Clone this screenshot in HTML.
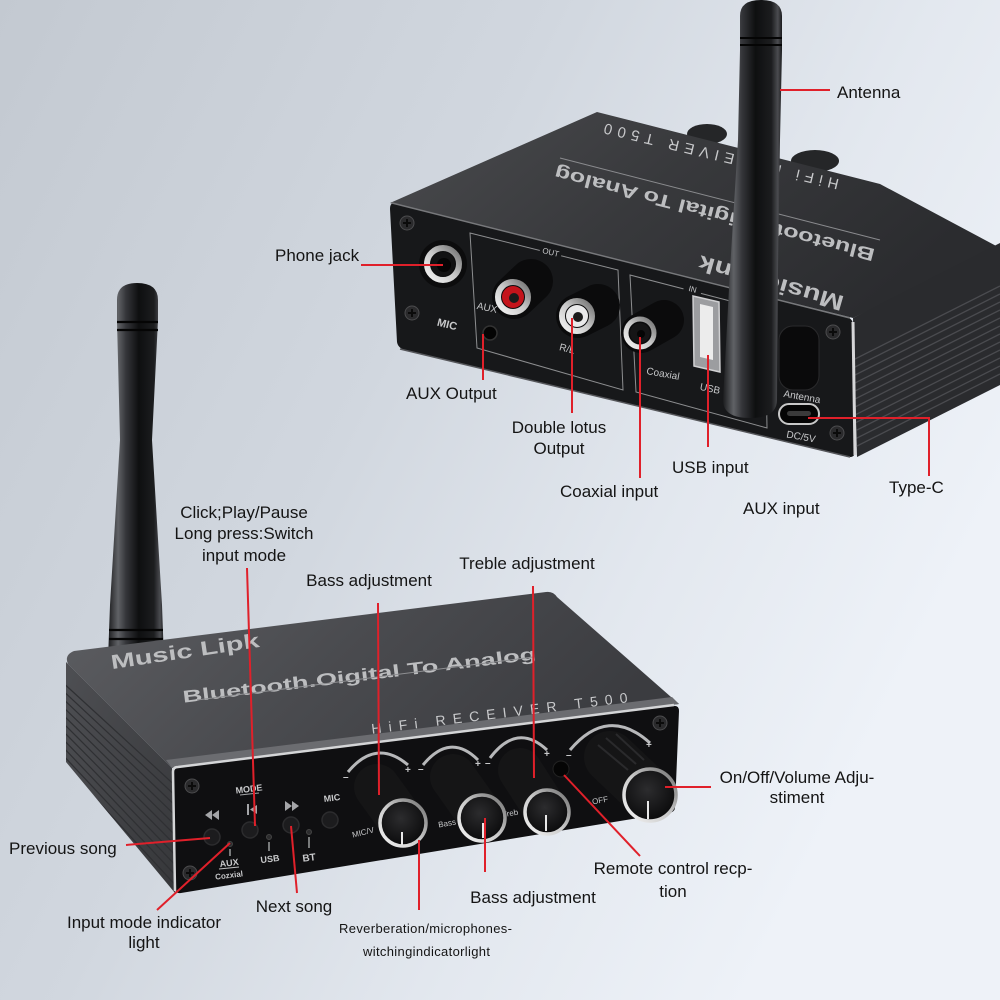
<!DOCTYPE html>
<html><head><meta charset="utf-8"><style>
html,body{margin:0;padding:0;width:1000px;height:1000px;overflow:hidden;background:#d5dbe3}
svg{display:block}
.l{font-family:"Liberation Sans",Arial,sans-serif;font-size:17px;fill:#141414}
.s{font-family:"Liberation Sans",Arial,sans-serif;font-size:13px;fill:#141414}
.r{stroke:#e0202a;stroke-width:2;fill:none}
.d{font-family:"Liberation Sans",Arial,sans-serif;fill:#c8c9cb}
.p{font-family:"Liberation Sans",Arial,sans-serif;fill:#bdbec0;font-weight:bold}
</style></head><body>
<svg width="1000" height="1000" viewBox="0 0 1000 1000" xmlns="http://www.w3.org/2000/svg">
<defs>
<linearGradient id="bg" x1="0" y1="0" x2="1" y2="0.5">
 <stop offset="0" stop-color="#c3c9d1"/>
 <stop offset="0.45" stop-color="#d1d7df"/>
 <stop offset="0.75" stop-color="#e3e8ef"/>
 <stop offset="1" stop-color="#eef2f8"/>
</linearGradient>
<linearGradient id="ant" x1="0" y1="0" x2="1" y2="0">
 <stop offset="0" stop-color="#1b1c1e"/>
 <stop offset="0.18" stop-color="#606266"/>
 <stop offset="0.32" stop-color="#35363a"/>
 <stop offset="0.55" stop-color="#0e0f10"/>
 <stop offset="0.82" stop-color="#1c1d1f"/>
 <stop offset="0.93" stop-color="#4b4c50"/>
 <stop offset="1" stop-color="#1a1b1d"/>
</linearGradient>
<linearGradient id="tf" x1="0" y1="0" x2="1" y2="0.3">
 <stop offset="0" stop-color="#5d5e62"/>
 <stop offset="0.5" stop-color="#4a4b4f"/>
 <stop offset="1" stop-color="#3b3c40"/>
</linearGradient>
<linearGradient id="tf2" x1="0" y1="0" x2="1" y2="0.4">
 <stop offset="0" stop-color="#4a4b4e"/>
 <stop offset="0.5" stop-color="#38393c"/>
 <stop offset="1" stop-color="#2b2c2f"/>
</linearGradient>
<linearGradient id="lf" x1="0" y1="0" x2="1" y2="1">
 <stop offset="0" stop-color="#4e4f53"/>
 <stop offset="1" stop-color="#36373a"/>
</linearGradient>
<linearGradient id="sil" x1="0" y1="1" x2="1" y2="0">
 <stop offset="0" stop-color="#f4f4f4"/>
 <stop offset="0.5" stop-color="#c9c9c9"/>
 <stop offset="1" stop-color="#707070"/>
</linearGradient>
<radialGradient id="kf" cx="0.45" cy="0.4" r="0.6">
 <stop offset="0" stop-color="#2c2c2e"/>
 <stop offset="1" stop-color="#0b0b0c"/>
</radialGradient>
<clipPath id="lfc"><polygon points="66,662 172,768 175,893 66,762"/></clipPath>
<clipPath id="sfc"><polygon points="853,318 1000,243 1000,385 857,457"/></clipPath>
</defs>

<rect width="1000" height="1000" fill="url(#bg)"/>

<!-- ============ TOP DEVICE (back view) ============ -->
<ellipse cx="707" cy="134" rx="20" ry="10" fill="#252628"/>
<ellipse cx="815" cy="161" rx="24" ry="11" fill="#252628"/>
<polygon points="390,203 597,112 880,184 1000,248 853,318" fill="url(#tf2)"/>
<!-- upside down texts -->
<text class="d" x="0" y="0" font-size="15" letter-spacing="3" text-anchor="middle" textLength="244" transform="translate(721,151) rotate(193.5)">HiFi RECEIVER T500</text>
<text class="p" x="0" y="0" font-size="18" text-anchor="middle" textLength="330" lengthAdjust="spacingAndGlyphs" transform="translate(716,208) rotate(194.5)">Bluetooth Digital To Analog</text>
<line x1="560" y1="158" x2="880" y2="240" stroke="#8a8b8e" stroke-width="1"/>
<text class="p" x="0" y="0" font-size="22" text-anchor="middle" textLength="150" lengthAdjust="spacingAndGlyphs" transform="translate(773,276) rotate(196)">Music Link</text>

<!-- side face -->
<polygon points="853,318 1000,243 1000,385 857,457" fill="#2a2b2e"/>
<g clip-path="url(#sfc)" stroke="#4a4b4f" stroke-width="1.3">
 <line x1="853" y1="360" x2="1000" y2="286"/>
 <line x1="853" y1="368" x2="1000" y2="294"/>
 <line x1="853" y1="376" x2="1000" y2="302"/>
 <line x1="853" y1="384" x2="1000" y2="310"/>
 <line x1="853" y1="392" x2="1000" y2="318"/>
 <line x1="853" y1="400" x2="1000" y2="326"/>
 <line x1="853" y1="408" x2="1000" y2="334"/>
 <line x1="853" y1="416" x2="1000" y2="342"/>
 <line x1="853" y1="424" x2="1000" y2="350"/>
 <line x1="853" y1="432" x2="1000" y2="358"/>
 <line x1="853" y1="440" x2="1000" y2="366"/>
 <line x1="853" y1="448" x2="1000" y2="374"/>
</g>
<!-- back panel -->
<path d="M394,203 L847,317 Q853,319 853,325 L855,451 Q855,458 848,457 L405,350 Q398,348 397,342 L390,209 Q390,203 394,203Z" fill="#17181a"/>
<line x1="392" y1="203" x2="850" y2="318" stroke="#77787b" stroke-width="1.5"/>
<line x1="853" y1="322" x2="855" y2="455" stroke="#d6d6d8" stroke-width="3"/>
<line x1="400" y1="349" x2="850" y2="457" stroke="#55565a" stroke-width="1.5"/>
<!-- screws -->
<g fill="#2a2a2c" stroke="#4c4c4e">
 <circle cx="407" cy="223" r="7"/><circle cx="412" cy="313" r="7"/>
 <circle cx="833" cy="332" r="7"/><circle cx="837" cy="433" r="7"/>
</g>
<g stroke="#0b0b0b" stroke-width="2">
 <path d="M403,223h8M407,219v8"/><path d="M408,313h8M412,309v8"/>
 <path d="M829,332h8M833,328v8"/><path d="M833,433h8M837,429v8"/>
</g>
<!-- phone jack -->
<circle cx="443" cy="264" r="24" fill="#0c0c0d"/>
<circle cx="443" cy="264" r="16" fill="none" stroke="url(#sil)" stroke-width="6"/>
<circle cx="443" cy="264" r="12" fill="#121213"/>
<circle cx="444" cy="265" r="7" fill="#050505"/>
<text class="d" font-size="11" font-weight="bold" x="447" y="328" text-anchor="middle" transform="rotate(14 447 325)">MIC</text>
<!-- OUT box -->
<polygon points="470,233 618,270 623,390 477,348" fill="none" stroke="#8d8e90" stroke-width="1"/>
<rect x="540" y="246" width="22" height="10" fill="#17181a" transform="rotate(14 551 251)"/>
<text class="d" font-size="8" x="551" y="255" text-anchor="middle" transform="rotate(14 551 251)">OUT</text>
<!-- red RCA -->
<line x1="531" y1="281" x2="514" y2="297" stroke="#0b0b0c" stroke-width="44" stroke-linecap="round"/>
<circle cx="513" cy="297" r="15" fill="none" stroke="url(#sil)" stroke-width="6"/>
<circle cx="513" cy="297" r="11" fill="#c4141b"/>
<circle cx="514" cy="298" r="5" fill="#1b1b1b"/>
<!-- white RCA -->
<line x1="598" y1="306" x2="578" y2="316" stroke="#0b0b0c" stroke-width="44" stroke-linecap="round"/>
<circle cx="577" cy="316" r="15" fill="none" stroke="url(#sil)" stroke-width="6"/>
<circle cx="577" cy="316" r="11" fill="#e9e9ea"/>
<circle cx="578" cy="317" r="5" fill="#1b1b1b"/>
<text class="d" font-size="10" x="487" y="311" text-anchor="middle" transform="rotate(12 487 308)">AUX</text>
<circle cx="490" cy="333" r="7" fill="#040404" stroke="#333" stroke-width="1.5"/>
<text class="d" font-size="10" x="567" y="352" text-anchor="middle" transform="rotate(14 567 349)">R/L</text>
<!-- IN box -->
<polygon points="630,275 765,310 767,428 636,392" fill="none" stroke="#8d8e90" stroke-width="1"/>
<rect x="684" y="283" width="18" height="10" fill="#17181a" transform="rotate(14 693 288)"/>
<text class="d" font-size="8" x="693" y="292" text-anchor="middle" transform="rotate(14 693 288)">IN</text>
<!-- coax -->
<line x1="664" y1="320" x2="641" y2="333" stroke="#0b0b0c" stroke-width="40" stroke-linecap="round"/>
<circle cx="640" cy="333" r="14" fill="none" stroke="url(#sil)" stroke-width="5"/>
<circle cx="640" cy="333" r="10" fill="#151516"/>
<circle cx="641" cy="334" r="4" fill="#050505"/>
<text class="d" font-size="10" x="663" y="377" text-anchor="middle" transform="rotate(10 663 374)">Coaxial</text>
<!-- USB -->
<polygon points="693,296 719,302 720,372 694,366" fill="#9c9da0" stroke="#d0d0d2" stroke-width="1.5"/>
<polygon points="700,304 713,307 713,360 700,357" fill="#ececec"/>
<text class="d" font-size="10" x="710" y="392" text-anchor="middle" transform="rotate(12 710 389)">USB</text>
<!-- antenna connector -->
<rect x="779" y="326" width="40" height="64" rx="14" fill="#0a0a0b" stroke="#2a2a2c"/>
<text class="d" font-size="10" x="802" y="400" text-anchor="middle" transform="rotate(10 802 397)">Antenna</text>
<!-- type-c -->
<rect x="779" y="404" width="40" height="20" rx="10" fill="#050505" stroke="#c8c8c8" stroke-width="2"/>
<rect x="787" y="411" width="24" height="5" rx="2.5" fill="#3a3a3a"/>
<text class="d" font-size="10" x="801" y="440" text-anchor="middle" transform="rotate(10 801 437)">DC/5V</text>
<!-- antenna top device -->
<path d="M740,16 Q740,0 761,0 Q782,0 782,16 L782,50 L780,140 L778,270 L777,400 Q777,418 750,418 Q723,418 723,400 L730,270 L738,140 L740,50 Z" fill="url(#ant)"/>
<g stroke="#050505" stroke-width="2"><line x1="740" y1="38" x2="782" y2="38"/><line x1="740" y1="45" x2="782" y2="45"/></g>

<!-- ============ BOTTOM DEVICE (front view) ============ -->
<!-- antenna -->
<path d="M117,300 Q117,283 137,283 Q158,283 158,300 L158,320 L152,440 L162,605 L164,660 L108,660 L110,605 L120,440 L117,320 Z" fill="url(#ant)"/>
<g stroke="#050505" stroke-width="2.2">
 <line x1="117" y1="322" x2="158" y2="322"/><line x1="117" y1="330" x2="158" y2="330"/>
 <line x1="109" y1="630" x2="163" y2="630"/><line x1="109" y1="639" x2="163" y2="639"/>
</g>
<!-- top face -->
<path d="M74,651 L546,592 Q553,591 557,597 L679,704 L172,768 L68,664 Q64,655 74,651 Z" fill="url(#tf)"/>
<polygon points="172,768 679,704 672,697 166,760" fill="#6b6c70"/>
<!-- left face -->
<polygon points="66,662 172,768 175,893 66,762" fill="url(#lf)"/>
<g clip-path="url(#lfc)" stroke="#2f3033" stroke-width="1.2">
 <line x1="60" y1="680" x2="180" y2="790"/><line x1="60" y1="688" x2="180" y2="800"/>
 <line x1="60" y1="696" x2="180" y2="810"/><line x1="60" y1="704" x2="180" y2="820"/>
 <line x1="60" y1="712" x2="180" y2="830"/><line x1="60" y1="720" x2="180" y2="840"/>
 <line x1="60" y1="728" x2="180" y2="850"/><line x1="60" y1="736" x2="180" y2="860"/>
 <line x1="60" y1="744" x2="180" y2="870"/><line x1="60" y1="752" x2="180" y2="880"/>
 <line x1="60" y1="760" x2="180" y2="890"/>
</g>
<!-- top face text -->
<text class="p" x="0" y="0" font-size="20" text-anchor="middle" textLength="150" lengthAdjust="spacingAndGlyphs" transform="translate(186,658) rotate(-8.5)">Music Lipk</text>
<text class="p" x="0" y="0" font-size="17" text-anchor="middle" textLength="356" lengthAdjust="spacingAndGlyphs" transform="translate(360,681) rotate(-7)">Bluetooth.Oigital To Analog</text>
<line x1="197" y1="700" x2="533" y2="657" stroke="#8e8f92" stroke-width="1"/>
<text class="d" x="0" y="0" font-size="14" text-anchor="middle" textLength="258" transform="translate(500,718) rotate(-7)">HiFi RECEIVER T500</text>

<!-- front panel -->
<path d="M177,768 L673,706 Q679,705 679,711 L675,807 Q675,812 669,813 L181,893 Q175,894 175,888 L173,773 Q173,768 177,768 Z" fill="#0f0f11"/>
<path d="M175,891 L173,772 Q173,767 178,767 L674,705" fill="none" stroke="#d4d5d7" stroke-width="2.5"/>
<!-- screws -->
<g fill="#2a2a2c" stroke="#4c4c4e">
 <circle cx="192" cy="786" r="7"/><circle cx="190" cy="873" r="7"/><circle cx="660" cy="723" r="7"/>
</g>
<g stroke="#0b0b0b" stroke-width="2">
 <path d="M188,786h8M192,782v8"/><path d="M186,873h8M190,869v8"/><path d="M656,723h8M660,719v8"/>
</g>
<!-- icons -->
<g fill="#a4a5a8">
 <polygon points="205,815 212,810 212,820"/><polygon points="212,815 219,810 219,820"/>
 <rect x="247" y="804" width="2" height="11"/><polygon points="250,809.5 257,805 257,814"/>
 <polygon points="285,801 292,806 285,811"/><polygon points="292,801 299,806 292,811"/>
</g>
<text class="d" font-size="9" font-weight="bold" x="249" y="792" text-anchor="middle" transform="rotate(-7 249 789)">MODE</text>
<line x1="240" y1="795" x2="259" y2="793" stroke="#a4a5a8" stroke-width="1"/>
<text class="d" font-size="9" font-weight="bold" x="332" y="801" text-anchor="middle" transform="rotate(-7 332 798)">MIC</text>
<!-- buttons -->
<g fill="#1c1c1e" stroke="#2c2c2e" stroke-width="1.5">
 <ellipse cx="212" cy="837" rx="8" ry="8"/><ellipse cx="250" cy="830" rx="8" ry="8"/>
 <ellipse cx="291" cy="825" rx="8" ry="8"/><ellipse cx="330" cy="820" rx="8" ry="8"/>
</g>
<!-- leds -->
<g fill="#2c2c2e" stroke="#444" stroke-width="1">
 <circle cx="230" cy="844" r="2.5"/><circle cx="269" cy="837" r="2.5"/><circle cx="309" cy="832" r="2.5"/>
</g>
<g stroke="#bfc0c2" stroke-width="1.2">
 <line x1="230" y1="849" x2="230" y2="856"/><line x1="269" y1="842" x2="269" y2="851"/><line x1="309" y1="837" x2="309" y2="848"/>
</g>
<text class="d" font-size="9" font-weight="bold" x="229" y="866" text-anchor="middle" transform="rotate(-7 229 862)">AUX</text>
<line x1="219" y1="869" x2="239" y2="867" stroke="#bfc0c2" stroke-width="1"/>
<text class="d" font-size="8" font-weight="bold" x="229" y="878" text-anchor="middle" transform="rotate(-7 229 875)">Cozxial</text>
<text class="d" font-size="9" font-weight="bold" x="270" y="862" text-anchor="middle" transform="rotate(-7 270 859)">USB</text>
<text class="d" font-size="10" font-weight="bold" x="309" y="861" text-anchor="middle" transform="rotate(-7 309 857)">BT</text>
<!-- knob labels -->
<g class="d" font-size="8">
 <text x="363" y="835" text-anchor="middle" transform="rotate(-14 363 832)">MIC/V</text>
 <text x="447" y="826" text-anchor="middle" transform="rotate(-10 447 823)">Bass</text>
 <text x="510" y="816" text-anchor="middle" transform="rotate(-10 510 813)">Treb</text>
 <text x="600" y="803" text-anchor="middle" transform="rotate(-10 600 800)">OFF</text>
</g>
<!-- scale arcs -->
<g fill="none" stroke="#b7b8ba" stroke-width="3">
 <path d="M348,772 Q376,738 408,765"/>
 <path d="M423,765 Q450,732 478,760"/>
 <path d="M490,758 Q517,722 547,750"/>
 <path d="M570,750 Q608,705 650,743"/>
</g>
<g class="d" font-size="10" font-weight="bold">
 <text x="343" y="780">–</text><text x="405" y="773">+</text>
 <text x="418" y="772">–</text><text x="475" y="767">+</text>
 <text x="485" y="766">–</text><text x="544" y="757">+</text>
 <text x="566" y="758">–</text><text x="646" y="748">+</text>
</g>
<!-- remote receiver -->
<circle cx="561" cy="769" r="8" fill="#050505" stroke="#222" stroke-width="1"/>
<!-- knobs -->
<g stroke="#151516" stroke-linecap="round">
 <line x1="377" y1="787" x2="403" y2="823" stroke-width="46"/>
 <line x1="453" y1="777" x2="482" y2="818" stroke-width="46"/>
 <line x1="520" y1="770" x2="547" y2="812" stroke-width="44"/>
 <line x1="610" y1="757" x2="650" y2="795" stroke-width="52"/>
</g>
<g stroke="#2a2a2c" stroke-width="2">
 <line x1="598" y1="745" x2="628" y2="770"/><line x1="606" y1="738" x2="636" y2="764"/><line x1="616" y1="734" x2="644" y2="760"/>
</g>
<g fill="url(#kf)" stroke="url(#sil)" stroke-width="3.5">
 <circle cx="403" cy="823" r="23"/>
 <circle cx="482" cy="818" r="23"/>
 <circle cx="547" cy="812" r="22"/>
 <circle cx="650" cy="795" r="26"/>
</g>
<g stroke="#e8e8e8" stroke-width="2">
 <line x1="402" y1="832" x2="402" y2="845"/>
 <line x1="483" y1="823" x2="483" y2="838"/>
 <line x1="546" y1="815" x2="546" y2="831"/>
 <line x1="648" y1="801" x2="648" y2="819"/>
</g>

<!-- ============ LABELS ============ -->
<g class="r">
 <line x1="780" y1="90" x2="830" y2="90"/>
 <line x1="361" y1="265" x2="443" y2="265"/>
 <line x1="483" y1="334" x2="483" y2="380"/>
 <line x1="572" y1="318" x2="572" y2="413"/>
 <line x1="640" y1="337" x2="640" y2="478"/>
 <line x1="708" y1="355" x2="708" y2="447"/>
 <polyline points="808,418 929,418 929,476"/>
 <line x1="247" y1="568" x2="255" y2="826"/>
 <line x1="378" y1="603" x2="379" y2="795"/>
 <line x1="533" y1="586" x2="534" y2="778"/>
 <line x1="665" y1="787" x2="711" y2="787"/>
 <line x1="564" y1="775" x2="640" y2="856"/>
 <line x1="485" y1="818" x2="485" y2="872"/>
 <line x1="419" y1="840" x2="419" y2="910"/>
 <line x1="291" y1="826" x2="297" y2="893"/>
 <line x1="126" y1="845" x2="210" y2="838"/>
 <line x1="157" y1="910" x2="230" y2="843"/>
</g>

<text class="l" x="837" y="98">Antenna</text>
<text class="l" x="275" y="261">Phone jack</text>
<text class="l" x="406" y="399">AUX Output</text>
<text class="l" x="559" y="433" text-anchor="middle">Double lotus</text>
<text class="l" x="559" y="454" text-anchor="middle">Output</text>
<text class="l" x="560" y="497">Coaxial input</text>
<text class="l" x="672" y="473">USB input</text>
<text class="l" x="889" y="493">Type-C</text>
<text class="l" x="743" y="514">AUX input</text>

<text class="l" x="244" y="518" text-anchor="middle">Click;Play/Pause</text>
<text class="l" x="244" y="539" text-anchor="middle">Long press:Switch</text>
<text class="l" x="244" y="561" text-anchor="middle">input mode</text>
<text class="l" x="369" y="586" text-anchor="middle">Bass adjustment</text>
<text class="l" x="527" y="569" text-anchor="middle">Treble adjustment</text>
<text class="l" x="797" y="783" text-anchor="middle">On/Off/Volume Adju-</text>
<text class="l" x="797" y="803" text-anchor="middle">stiment</text>
<text class="l" x="673" y="874" text-anchor="middle">Remote control recp-</text>
<text class="l" x="673" y="897" text-anchor="middle">tion</text>
<text class="l" x="533" y="903" text-anchor="middle">Bass adjustment</text>
<text class="l" x="9" y="854">Previous song</text>
<text class="l" x="294" y="912" text-anchor="middle">Next song</text>
<text class="l" x="144" y="928" text-anchor="middle">Input mode indicator</text>
<text class="l" x="144" y="948" text-anchor="middle">light</text>
<text class="s" x="339" y="933" textLength="173">Reverberation/microphones-</text>
<text class="s" x="363" y="956" textLength="127">witchingindicatorlight</text>
</svg>
</body></html>
